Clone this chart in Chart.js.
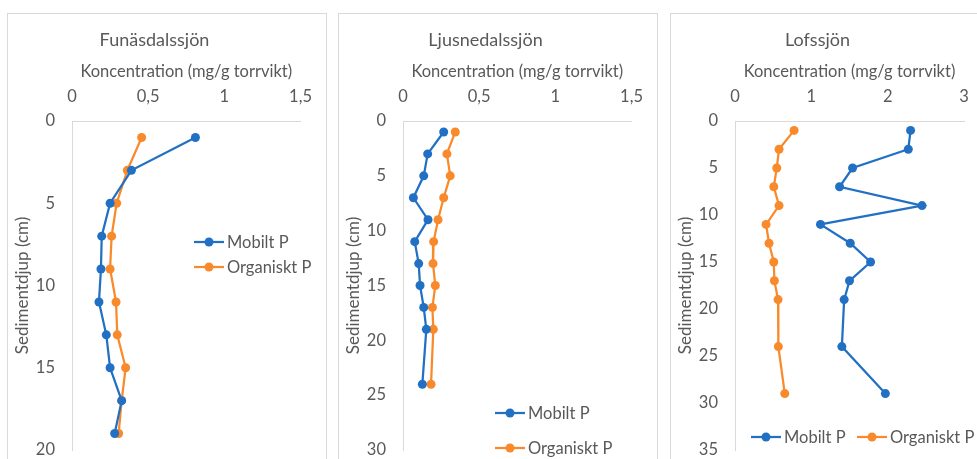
<!DOCTYPE html>
<html>
<head>
<meta charset="utf-8">
<script src="https://cdn.jsdelivr.net/npm/chart.js@4/dist/chart.umd.min.js"></script>
<style>
  html, body { margin: 0; padding: 0; background: #fff; overflow: hidden; }
  body { width: 977px; height: 459px; position: relative; }
  .panel { position: absolute; top: 13px; width: 318px; height: 470px; border: 1px solid #d9d9d9; }
  .panel canvas { position: absolute; left: 0; top: 0; }
</style>
</head>
<body>
<div class="panel" style="left:7px"><canvas id="c1" width="318" height="470"></canvas></div>
<div class="panel" style="left:338px"><canvas id="c2" width="318" height="470"></canvas></div>
<div class="panel" style="left:670px"><canvas id="c3" width="318" height="470"></canvas></div>
<script>
// Sediment depth (cm) and phosphorus concentration (mg/g torrvikt)
var depthF = [1, 3, 5, 7, 9, 11, 13, 15, 17, 19];
var mobiltF = [0.81, 0.39, 0.25, 0.195, 0.19, 0.177, 0.225, 0.25, 0.326, 0.28];
var organisktF = [0.457, 0.363, 0.293, 0.26, 0.25, 0.289, 0.297, 0.352, 0.326, 0.306];

var depthL = [1, 3, 5, 7, 9, 11, 13, 15, 17, 19, 24];
var mobiltL = [0.267, 0.162, 0.136, 0.068, 0.164, 0.077, 0.103, 0.112, 0.136, 0.153, 0.127];
var organisktL = [0.343, 0.288, 0.31, 0.267, 0.23, 0.201, 0.197, 0.212, 0.193, 0.199, 0.184];

var depthO = [1, 3, 5, 7, 9, 11, 13, 15, 17, 19, 24, 29];
var mobiltO = [2.30, 2.27, 1.54, 1.37, 2.45, 1.12, 1.51, 1.776, 1.50, 1.43, 1.40, 1.97];
var organisktO = [0.774, 0.577, 0.547, 0.508, 0.577, 0.407, 0.446, 0.508, 0.516, 0.564, 0.568, 0.652];

var seriesNames = ["Mobilt P", "Organiskt P"];
var xTitle = "Koncentration (mg/g torrvikt)";
var yTitle = "Sedimentdjup (cm)";

var BLUE = '#2270c4';
var ORANGE = '#f98a2c';
var TEXT = '#595959';
var FONT = 'Lato';

// simple legend drawn at fixed spots, like the hand-placed Excel legend
var fixedLegend = {
    id: 'fixedLegend',
    afterDraw: function(chart, args, opts) {
        var ctx = chart.ctx;
        var colors = [BLUE, ORANGE];
        ctx.save();
        ctx.font = '16.5px ' + FONT;
        ctx.textBaseline = 'middle';
        ctx.textAlign = 'left';
        opts.items.forEach(function(it, i) {
            ctx.strokeStyle = colors[i];
            ctx.lineWidth = 2.25;
            ctx.beginPath();
            ctx.moveTo(it.x, it.y);
            ctx.lineTo(it.x + 30, it.y);
            ctx.stroke();
            ctx.fillStyle = colors[i];
            ctx.beginPath();
            ctx.arc(it.x + 15, it.y, 4.5, 0, Math.PI * 2);
            ctx.fill();
            ctx.fillStyle = TEXT;
            ctx.fillText(seriesNames[i], it.x + 33, it.y + 1);
        });
        ctx.restore();
    }
};

function pts(xs, ys) {
    return ys.map(function(d, i) { return { x: xs[i], y: d }; });
}

function commaTick(v) {
    return String(v).replace('.', ',');
}

function makeChart(id, title, depth, mobilt, organiskt, xMax, xStep, yMax, legendItems) {
    var ctx = document.getElementById(id);
    return new Chart(ctx, {
        type: 'scatter',
        data: {
            datasets: [{
                label: seriesNames[0],
                data: pts(mobilt, depth),
                showLine: true,
                borderColor: BLUE,
                backgroundColor: BLUE,
                borderWidth: 2.25,
                pointRadius: 4.5,
                pointBorderWidth: 0
            }, {
                label: seriesNames[1],
                data: pts(organiskt, depth),
                showLine: true,
                borderColor: ORANGE,
                backgroundColor: ORANGE,
                borderWidth: 2.25,
                pointRadius: 4.5,
                pointBorderWidth: 0
            }]
        },
        options: {
            responsive: false,
            animation: false,
            layout: { padding: { left: 0, right: 25, top: 0, bottom: 34 } },
            plugins: {
                legend: { display: false },
                tooltip: { enabled: false },
                title: {
                    display: true,
                    text: title,
                    color: TEXT,
                    font: { family: FONT, size: 18, weight: 'normal', lineHeight: 1.2 },
                    padding: { top: 15, bottom: 0 }
                },
                fixedLegend: { items: legendItems }
            },
            scales: {
                x: {
                    type: 'linear',
                    position: 'top',
                    min: 0,
                    max: xMax,
                    grid: { display: false, drawTicks: false },
                    border: { display: true, color: '#d9d9d9', width: 1 },
                    ticks: {
                        stepSize: xStep,
                        color: TEXT,
                        padding: 14,
                        font: { family: FONT, size: 16.5 },
                        callback: commaTick
                    },
                    title: {
                        display: true,
                        text: xTitle,
                        color: TEXT,
                        font: { family: FONT, size: 16.5, lineHeight: 1.2 },
                        padding: { top: 11.5, bottom: 0 }
                    },
                    afterFit: function(s) { s.height = 107 - 36.6; }
                },
                y: {
                    type: 'linear',
                    reverse: true,
                    min: 0,
                    max: yMax,
                    grid: { display: false, drawTicks: false },
                    border: { display: true, color: '#d9d9d9', width: 1 },
                    ticks: {
                        stepSize: 5,
                        color: TEXT,
                        padding: 17,
                        font: { family: FONT, size: 16.5 }
                    },
                    title: {
                        display: true,
                        text: yTitle,
                        color: TEXT,
                        font: { family: FONT, size: 17, lineHeight: 1.2 },
                        padding: { top: 4, bottom: 0 }
                    },
                    afterFit: function(s) { s.width = 64; }
                }
            }
        },
        plugins: [fixedLegend]
    });
}

makeChart('c1', 'Funäsdalssjön', depthF, mobiltF, organisktF, 1.5, 0.5, 20,
    [{ x: 186, y: 228 }, { x: 186, y: 253 }]);
makeChart('c2', 'Ljusnedalssjön', depthL, mobiltL, organisktL, 1.5, 0.5, 30,
    [{ x: 156, y: 399 }, { x: 156, y: 434 }]);
makeChart('c3', 'Lofssjön', depthO, mobiltO, organisktO, 3, 1, 35,
    [{ x: 80, y: 423 }, { x: 186, y: 423 }]);
</script>
</body>
</html>
